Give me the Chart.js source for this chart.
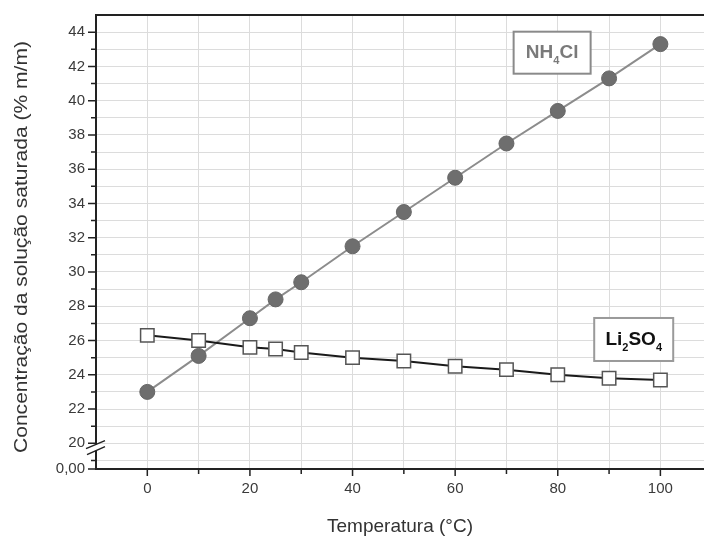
<!DOCTYPE html>
<html>
<head>
<meta charset="utf-8">
<script src="https://cdn.jsdelivr.net/npm/chart.js@4.4.1/dist/chart.umd.min.js"></script>
<style>
body { margin: 0; background: #fff; overflow: hidden; }
</style>
</head>
<body>
<canvas id="solChart" width="704" height="541"></canvas>
<script>
// temperatures (C) used in both series
const temps = [0, 10, 20, 25, 30, 40, 50, 60, 70, 80, 90, 100];
// saturated solution concentration, % m/m
const nh4cl = [23.0, 25.1, 27.3, 28.4, 29.4, 31.5, 33.5, 35.5, 37.5, 39.4, 41.3, 43.3];
const li2so4 = [26.3, 26.0, 25.6, 25.5, 25.3, 25.0, 24.8, 24.5, 24.3, 24.0, 23.8, 23.7];

// tick values
const xMajor = [0, 20, 40, 60, 80, 100];
const xMinor = [10, 30, 50, 70, 90];
const yMajor = [20, 22, 24, 26, 28, 30, 32, 34, 36, 38, 40, 42, 44];
const yMinor = [19, 21, 23, 25, 27, 29, 31, 33, 35, 37, 39, 41, 43];
const yBreakLabel = '0,00';   // label on the broken bottom of the y axis
const yTitle = 'Concentração da solução saturada (% m/m)';

const xMin = -10, xMax = 108.5;
const yMin = 18.5, yMax = 45;

const tickFont = { family: 'Liberation Sans, Arial, sans-serif', size: 15 };
const titleFont = { family: 'Liberation Sans, Arial, sans-serif', size: 19 };

// draws ticks, top border, the axis break, y title and the two formula boxes
const extras = {
    id: 'extras',
    afterDraw(chart) {
        const ctx = chart.ctx;
        const a = chart.chartArea;
        const xs = chart.scales.x, ys = chart.scales.y;
        ctx.save();
        ctx.strokeStyle = '#222';
        ctx.lineWidth = 2;
        ctx.beginPath();
        ctx.moveTo(a.left - 1, a.top);
        ctx.lineTo(chart.width, a.top);
        ctx.stroke();

        ctx.lineWidth = 1.5;
        ctx.beginPath();
        for (const v of yMajor.concat([yMin])) {
            const y = ys.getPixelForValue(v);
            ctx.moveTo(a.left - 8, y); ctx.lineTo(a.left, y);
        }
        for (const v of yMinor) {
            const y = ys.getPixelForValue(v);
            ctx.moveTo(a.left - 5, y); ctx.lineTo(a.left, y);
        }
        for (const v of xMajor) {
            const x = xs.getPixelForValue(v);
            ctx.moveTo(x, a.bottom); ctx.lineTo(x, a.bottom + 7);
        }
        for (const v of xMinor) {
            const x = xs.getPixelForValue(v);
            ctx.moveTo(x, a.bottom); ctx.lineTo(x, a.bottom + 5);
        }
        ctx.stroke();

        // axis break between 0,00 and 20
        const yb = ys.getPixelForValue(19.75);
        ctx.fillStyle = '#fff';
        ctx.fillRect(a.left - 3, yb - 3, 6, 6);
        ctx.strokeStyle = '#222';
        ctx.lineWidth = 1.5;
        ctx.beginPath();
        ctx.moveTo(a.left - 10, yb + 1); ctx.lineTo(a.left + 9, yb - 7);
        ctx.moveTo(a.left - 9, yb + 7); ctx.lineTo(a.left + 9, yb - 1);
        ctx.stroke();

        // y title, a bit stretched along its length like the original
        ctx.translate(22, 247);
        ctx.rotate(-Math.PI / 2);
        ctx.scale(1.17, 1);
        ctx.font = '18px Liberation Sans, Arial, sans-serif';
        ctx.fillStyle = '#333';
        ctx.textAlign = 'center';
        ctx.textBaseline = 'middle';
        ctx.fillText(yTitle, 0, 0);
        ctx.setTransform(1, 0, 0, 1, 0, 0);

        drawFormula(ctx, xs.getPixelForValue(78.9), ys.getPixelForValue(42.8), 77, 42,
            [['NH', false], ['4', true], ['Cl', false]], '#7a7a7a', '#8a8a8a');
        drawFormula(ctx, xs.getPixelForValue(94.8), ys.getPixelForValue(26.06), 79, 43,
            [['Li', false], ['2', true], ['SO', false], ['4', true]], '#111', '#9a9a9a');
        ctx.restore();
    }
};

function drawFormula(ctx, cx, cy, w, h, parts, color, border) {
    ctx.fillStyle = '#fff';
    ctx.fillRect(cx - w / 2, cy - h / 2, w, h);
    ctx.strokeStyle = border;
    ctx.lineWidth = 2;
    ctx.strokeRect(cx - w / 2, cy - h / 2, w, h);
    const big = 'bold 19px Liberation Sans, Arial, sans-serif';
    const small = 'bold 11px Liberation Sans, Arial, sans-serif';
    let total = 0;
    for (const p of parts) {
        ctx.font = p[1] ? small : big;
        total += ctx.measureText(p[0]).width;
    }
    let x = cx - total / 2;
    ctx.fillStyle = color;
    ctx.textBaseline = 'middle';
    ctx.textAlign = 'left';
    for (const p of parts) {
        ctx.font = p[1] ? small : big;
        ctx.fillText(p[0], x, p[1] ? cy + 8 : cy);
        x += ctx.measureText(p[0]).width;
    }
}

new Chart(document.getElementById('solChart'), {
    type: 'scatter',
    data: {
        datasets: [{
            label: 'Li2SO4',
            data: temps.map((t, i) => ({ x: t, y: li2so4[i] })),
            showLine: true,
            borderColor: '#1a1a1a',
            borderWidth: 2,
            pointStyle: 'rect',
            pointRadius: 9.5,
            pointBackgroundColor: '#fff',
            pointBorderColor: '#555',
            pointBorderWidth: 1.5
        }, {
            label: 'NH4Cl',
            data: temps.map((t, i) => ({ x: t, y: nh4cl[i] })),
            showLine: true,
            borderColor: '#8c8c8c',
            borderWidth: 2,
            pointStyle: 'circle',
            pointRadius: 7.5,
            pointBackgroundColor: '#6e6e6e',
            pointBorderColor: '#666',
            pointBorderWidth: 1
        }]
    },
    options: {
        responsive: false,
        animation: false,
        layout: { autoPadding: false, padding: { left: 0, right: 0, top: 15, bottom: 0 } },
        plugins: { legend: { display: false }, tooltip: { enabled: false } },
        scales: {
            x: {
                type: 'linear',
                min: xMin,
                max: xMax,
                afterBuildTicks: s => { s.ticks = [xMin].concat(xMajor, xMinor, [xMax]).sort((p, q) => p - q).map(v => ({ value: v })); },
                afterFit: s => { s.height = 72; },
                ticks: {
                    autoSkip: false,
                    maxRotation: 0,
                    padding: 0,
                    color: '#3a3a3a',
                    font: tickFont,
                    callback: v => xMajor.includes(v) ? String(v) : ''
                },
                grid: {
                    drawTicks: true,
                    tickLength: 11,
                    tickColor: 'rgba(0,0,0,0)',
                    color: c => (c.tick && (c.tick.value === xMin || c.tick.value === xMax)) ? 'rgba(0,0,0,0)' : '#dcdcdc',
                    lineWidth: 1
                },
                border: { color: '#222', width: 2 },
                title: {
                    display: true,
                    text: 'Temperatura (°C)',
                    color: '#333',
                    font: titleFont,
                    padding: { top: 0, bottom: 3 }
                }
            },
            y: {
                type: 'linear',
                min: yMin,
                max: yMax,
                afterBuildTicks: s => { s.ticks = [yMin].concat(yMinor, yMajor, [yMax]).sort((p, q) => p - q).map(v => ({ value: v })); },
                afterFit: s => { s.width = 96; },
                ticks: {
                    autoSkip: false,
                    padding: 0,
                    color: '#3a3a3a',
                    font: tickFont,
                    callback: v => v === yMin ? yBreakLabel : (yMajor.includes(v) ? String(v) : '')
                },
                grid: {
                    drawTicks: true,
                    tickLength: 11,
                    tickColor: 'rgba(0,0,0,0)',
                    color: c => (c.tick && (c.tick.value === yMin || c.tick.value === yMax)) ? 'rgba(0,0,0,0)' : '#dcdcdc',
                    lineWidth: 1
                },
                border: { color: '#222', width: 2 }
            }
        }
    },
    plugins: [extras]
});
</script>
</body>
</html>
